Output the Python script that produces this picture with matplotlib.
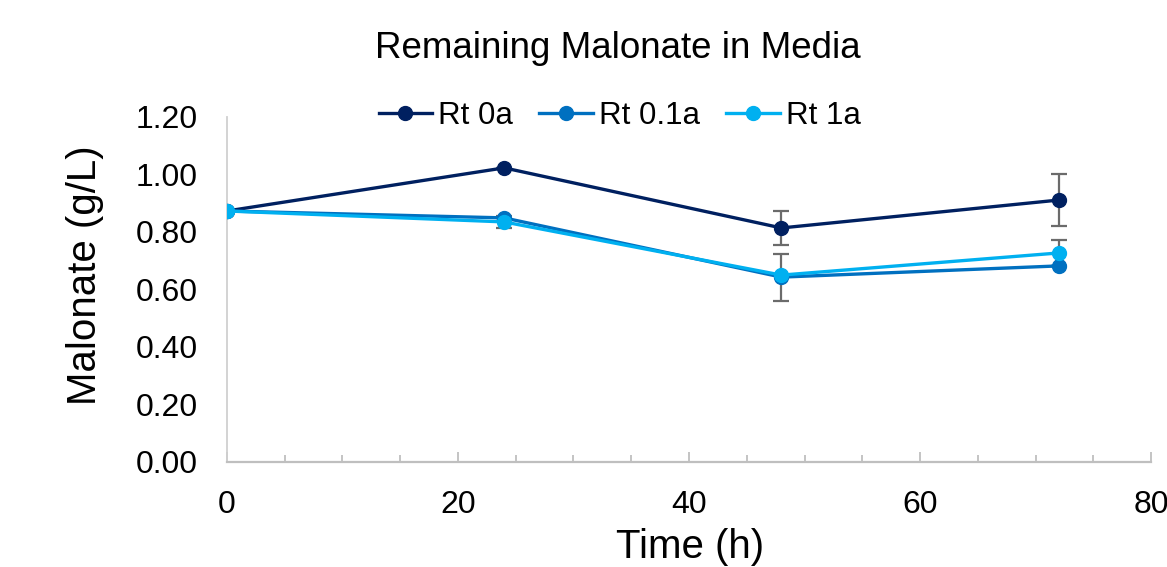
import matplotlib
matplotlib.use("Agg")
import matplotlib.pyplot as plt
from matplotlib.ticker import MultipleLocator, FormatStrFormatter

plt.rcParams['font.family'] = ['Liberation Sans', 'DejaVu Sans']

# data
time_h = [0, 24, 48, 72]
labels = ["Rt 0a", "Rt 0.1a", "Rt 1a"]
rt_0a = [0.873, 1.023, 0.814, 0.911]
rt_01a = [0.873, 0.849, 0.643, 0.682]
rt_1a = [0.873, 0.835, 0.650, 0.727]
err_0a = [0.0, 0.0, 0.059, 0.090]
err_01a = [0.0, 0.0, 0.082, 0.0]
err_1a = [0.0, 0.02, 0.0, 0.045]
colors = ["#002060", "#0070C0", "#00B0F0"]

fig = plt.figure(figsize=(11.67, 5.67), dpi=100)
ax = fig.add_axes([0.1945, 0.1852, 0.7918, 0.6085])

series = [rt_0a, rt_01a, rt_1a]
errs = [err_0a, err_01a, err_1a]
for i in range(3):
    ax.errorbar(time_h, series[i], yerr=errs[i], fmt='none', ecolor='#6b6b6b',
                elinewidth=1.6, capsize=6, capthick=1.6, zorder=2)
for i in range(3):
    ax.plot(time_h, series[i], color=colors[i], lw=2.4, marker='o', ms=10,
            label=labels[i], zorder=3 + i)

ax.set_xlim(0, 80)
ax.set_ylim(0, 1.2)
ax.xaxis.set_major_locator(MultipleLocator(20))
ax.xaxis.set_minor_locator(MultipleLocator(5))
ax.yaxis.set_major_locator(MultipleLocator(0.2))
ax.yaxis.set_major_formatter(FormatStrFormatter('%.2f'))

for s in ['top', 'right']:
    ax.spines[s].set_visible(False)
ax.spines['left'].set_color('#d0d0d0')
ax.spines['bottom'].set_color('#bfbfbf')
ax.spines['left'].set_linewidth(1.3)
ax.spines['bottom'].set_linewidth(1.6)

ax.tick_params(axis='x', which='major', direction='in', length=7, width=1.3,
               color='#bfbfbf', labelsize=23, pad=20)
ax.tick_params(axis='x', which='minor', direction='in', length=5, width=1.3,
               color='#bfbfbf')
ax.tick_params(axis='y', length=0, labelsize=23, pad=21)

fig.text(0.529, 0.915, "Remaining Malonate in Media", ha='center', va='center', fontsize=26.5)
fig.text(0.591, 0.035, "Time (h)", ha='center', va='center', fontsize=29)
fig.text(0.073, 0.515, "Malonate (g/L)", ha='center', va='center', fontsize=29, rotation=90)

fig.legend(loc='center', bbox_to_anchor=(0.531, 0.795), ncol=3, frameon=False,
           fontsize=22.5, handlelength=1.7, handletextpad=0.2, columnspacing=0.85,
           borderaxespad=0)

fig.savefig("out.png", dpi=100, facecolor='white')
